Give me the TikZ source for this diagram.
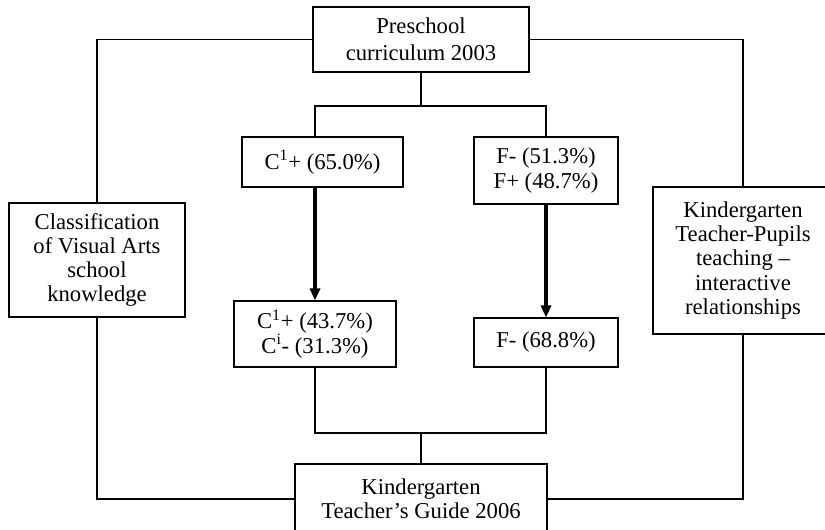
\documentclass[tikz,border=0pt]{standalone}
\usepackage{fontspec}
\setmainfont{Liberation Serif}
\usetikzlibrary{arrows.meta}
\begin{document}
\begin{tikzpicture}[x=0.75pt,y=-0.75pt,
  box/.style={draw, line width=0.8pt, align=center, inner sep=0pt, font=\fontsize{17}{18.2}\selectfont},
  conn/.style={line width=0.8pt},
  thickarrow/.style={line width=2.3pt, -{Triangle[length=9pt,width=7.5pt]}}]
\useasboundingbox (0,0) rectangle (825,529);
\node[box, minimum width=162pt, minimum height=48.75pt, font=\fontsize{17}{20}\selectfont] (pre) at (421,39.5) {Preschool\\curriculum 2003};
\node[box, minimum width=120.75pt, minimum height=37.5pt] (c1) at (322.5,162) {C\textsuperscript{1}+ (65.0\%)};
\node[box, minimum width=108pt, minimum height=50.25pt] (f1) at (546,170.5) {F- (51.3\%)\\F+ (48.7\%)};
\node[box, minimum width=132pt, minimum height=85.5pt] (cls) at (97,260) {Classification\\of Visual Arts\\school\\knowledge};
\node[box, minimum width=135pt, minimum height=110.25pt] (ktp) at (743,260.5) {Kindergarten\\Teacher-Pupils\\teaching --\\interactive\\relationships};
\node[box, minimum width=121.5pt, minimum height=49.5pt] (c2) at (315,334) {C\textsuperscript{1}+ (43.7\%)\\C\textsuperscript{i}- (31.3\%)};
\node[box, minimum width=108pt, minimum height=36.75pt] (f2) at (546,342.5) {F- (68.8\%)};
\node[box, minimum width=189pt, minimum height=52.5pt] (guide) at (421,499) {Kindergarten\\Teacher’s Guide 2006};
\coordinate (jt) at (421,106);
\coordinate (jb) at (421,433);
\draw[conn] (pre.south) -- (jt);
\draw[conn] (c2 |- c1.north) |- (jt) -| (f1.north);
\draw[conn] (pre.west) -| (cls.north);
\draw[conn] (cls.south) |- (guide.west);
\draw[conn] (pre.east) -| (ktp.north);
\draw[conn] (ktp.south) |- (guide.east);
\draw[thickarrow] (c2 |- c1.south) -- (c2.north);
\draw[thickarrow] (f1.south) -- (f2.north);
\draw[conn] (c2.south) |- (jb) -| (f2.south);
\draw[conn] (jb) -- (guide.north);
\end{tikzpicture}
\end{document}
